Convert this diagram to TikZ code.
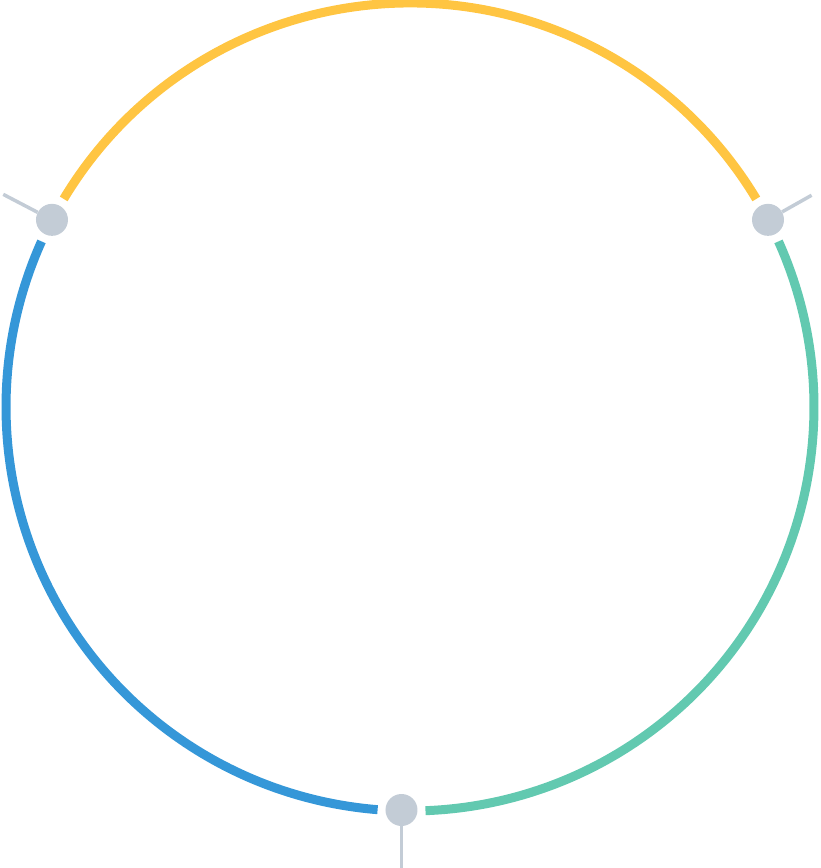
\documentclass[tikz,border=0pt]{standalone}
\definecolor{ringyellow}{HTML}{FFC542}
\definecolor{ringteal}{HTML}{62C9B0}
\definecolor{ringblue}{HTML}{3597D8}
\definecolor{pingrey}{HTML}{C3CCD6}
\begin{document}
\begin{tikzpicture}[x=1pt,y=1pt,
    ring/.style={line width=9pt},
    pin/.style={circle,fill=pingrey,minimum size=32pt,inner sep=0pt},
    stem/.style={draw=pingrey,line width=3.5pt}]
        \useasboundingbox (-410,-461) rectangle (410,407);

        \draw[ring,ringyellow] (149:404) arc[start angle=149, end angle=31, radius=404];
        \draw[ring,ringteal] (24.2:404) arc[start angle=24.2, end angle=-87.8, radius=404];
        \draw[ring,ringblue] (265.4:404) arc[start angle=265.4, end angle=155.8, radius=404];

        \node[pin] (PinL) at (152.4:404) {};
        \node[pin] (PinR) at (27.6:404) {};
        \node[pin] (PinB) at (-8.5,-403) {};

        \coordinate (EndL) at (152.4:459);
        \coordinate (EndR) at (27.8:454);
        \coordinate (EndB) at (-8.5,-461);

        \draw[stem] (PinL) -- (EndL);
        \draw[stem] (PinR) -- (EndR);
        \draw[stem] (PinB) -- (EndB);
    \end{tikzpicture}
\end{document}
